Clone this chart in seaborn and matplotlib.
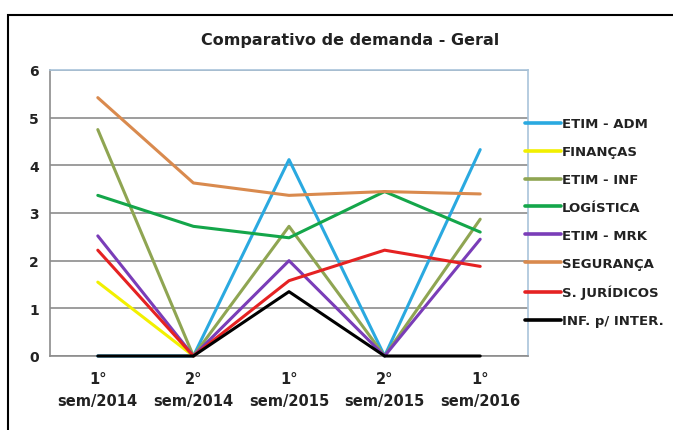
import numpy as np
import pandas as pd
import matplotlib
matplotlib.use("Agg")
import matplotlib.pyplot as plt
import seaborn as sns
from matplotlib.patches import Rectangle

categories = ["1°\nsem/2014", "2°\nsem/2014", "1°\nsem/2015", "2°\nsem/2015", "1°\nsem/2016"]
etim_adm = [0, 0, 4.12, 0, 4.33]
financas = [1.55, 0, np.nan, np.nan, np.nan]
etim_inf = [4.75, 0, 2.72, 0, 2.87]
logistica = [3.37, 2.72, 2.48, 3.45, 2.60]
etim_mrk = [2.52, 0, 2.0, 0, 2.45]
seguranca = [5.42, 3.63, 3.37, 3.45, 3.40]
s_juridicos = [2.22, 0, 1.58, 2.22, 1.88]
inf_inter = [0, 0, 1.35, 0, 0]

series_names = ["ETIM - ADM", "FINANÇAS", "ETIM - INF", "LOGÍSTICA", "ETIM - MRK",
                "SEGURANÇA", "S. JURÍDICOS", "INF. p/ INTER."]
series_vals = [etim_adm, financas, etim_inf, logistica, etim_mrk, seguranca, s_juridicos, inf_inter]
colors = ["#2AA9E0", "#F2F000", "#8FA552", "#14A64A", "#7A3DB8", "#D98A4E", "#E52222", "#000000"]

rows = []
for name, vals in zip(series_names, series_vals):
    for i, v in enumerate(vals):
        rows.append({"x": i, "y": v, "serie": name})
df = pd.DataFrame(rows)

sns.set_style("white")
plt.rcParams['font.family'] = ['DejaVu Sans']

fig = plt.figure(figsize=(6.73, 4.31), dpi=100)
ax = fig.add_axes([50/673, 1-357/431, (528-50)/673, (357-71)/431])

sns.lineplot(data=df, x="x", y="y", hue="serie", hue_order=series_names,
             palette=dict(zip(series_names, colors)), linewidth=2.2, sort=False,
             ax=ax, legend=True, estimator=None)
for ln in ax.lines:
    ln.set_zorder(3)
    ln.set_clip_on(False)

ax.set_xlim(-0.5, 4.5)
ax.set_ylim(0, 6)
ax.set_yticks(range(0, 7))
ax.set_yticklabels([str(i) for i in range(0, 7)], fontsize=10, fontweight="bold", color="#222222")
ax.set_xticks(range(5))
ax.set_xticklabels(categories, fontsize=10.5, fontweight="bold", color="#222222", linespacing=1.6)
ax.tick_params(axis="x", length=0, pad=11)
ax.set_xticks([0.5, 1.5, 2.5, 3.5], minor=True)
ax.tick_params(axis="x", which="minor", length=4, color="#888888", direction="out")
ax.tick_params(axis="y", length=4, color="#888888", direction="out", pad=4)
ax.set_xlabel("")
ax.set_ylabel("")
ax.grid(axis="y", color="#8C8C8C", linewidth=1.2)
ax.set_axisbelow(True)
for s in ["top", "right"]:
    ax.spines[s].set_color("#A9C4DA")
    ax.spines[s].set_linewidth(1.2)
for s in ["left", "bottom"]:
    ax.spines[s].set_color("#8C8C8C")
    ax.spines[s].set_linewidth(1.2)

fig.text(350/673, 1-40/431, "Comparativo de demanda - Geral", fontsize=11.5, fontweight="bold",
         color="#222222", ha="center", va="center")

handles, labels = ax.get_legend_handles_labels()
leg = ax.legend(handles, labels, loc="upper left", bbox_to_anchor=(0.983, 0.853),
                frameon=False, prop={"weight": "bold", "size": 9.5},
                handlelength=2.7, handletextpad=0.1, labelspacing=1.13, borderaxespad=0)
for t in leg.get_texts():
    t.set_color("#222222")
for line in leg.get_lines():
    line.set_linewidth(2.6)

fig.patches.append(Rectangle((8/673, -0.05), 1.2, 1-16/431 + 0.05, transform=fig.transFigure,
                             fill=False, edgecolor="black", linewidth=1.5))

fig.savefig("out.png", dpi=100)
